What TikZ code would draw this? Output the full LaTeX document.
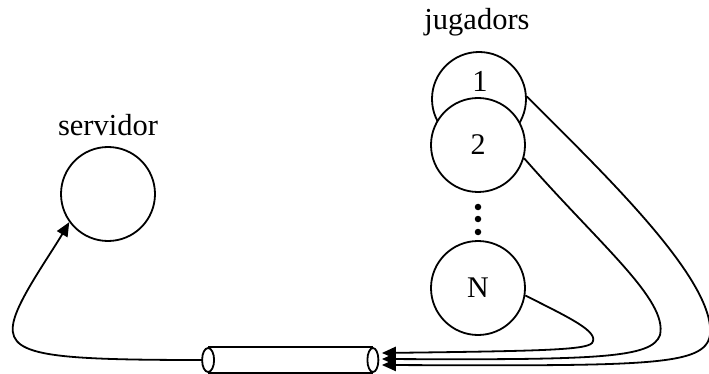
\documentclass[tikz,border=0pt]{standalone}
\usepackage{fontspec}
\setmainfont{Liberation Serif}
\usetikzlibrary{arrows.meta,calc}
\begin{document}
\begin{tikzpicture}[x=1pt,y=-1pt,line width=1.8pt,
  circ/.style={circle,draw,fill=white,minimum size=94pt,inner sep=0pt,font=\fontsize{30}{30}\selectfont},
  lbl/.style={font=\fontsize{30.5}{30.5}\selectfont,inner sep=0pt},
  dotn/.style={circle,fill=black,minimum size=6.5pt,inner sep=0pt},
  conn/.style={-{Triangle[length=14pt,width=12pt]}}]
\useasboundingbox (0,0) rectangle (709,374);
% server
\node[circ] (serv) at (108,194) {};
\node[lbl] (servl) at (108,125) {servidor};
% players
\node[lbl] (jugl) at (477,22) {jugadors};
\node[circ] (j1) at (479,99) {};
\node[lbl] (j1t) at (480,81) {1};
\node[circ] (j2) at (478,145) {2};
\node[dotn] (d1) at (478,207) {};
\node[dotn] (d2) at (478,219) {};
\node[dotn] (d3) at (478,232) {};
\node[circ] (jN) at (478,288) {N};
% pipe
\node[minimum width=163pt,minimum height=24pt,inner sep=0pt] (pipe) at (290.5,360) {};
\draw (pipe.north west) -- (pipe.north east);
\draw (pipe.south west) -- (pipe.south east);
\draw[fill=white] (pipe.west) ellipse (6 and 12);
\draw[fill=white] (pipe.east) ellipse (5.5 and 12);
\coordinate (pin) at ($(pipe.west)+(-6,0)$);
\coordinate (t1) at ($(pipe.east)+(9,5)$);
\coordinate (t2) at ($(pipe.east)+(9,-1)$);
\coordinate (t3) at ($(pipe.east)+(9,-7)$);
% connectors
\draw[conn] (pin) .. controls (40,360) and (5,355) .. (14,320)
  .. controls (20,297) and (50,255) .. (serv.216);
\draw[conn] (j1.3) .. controls (600,170) and (716,280) .. (710,335)
  .. controls (705,366) and (650,366) .. (t1);
\draw[conn] (j2.-16) .. controls (600,245) and (668,300) .. (660,335)
  .. controls (652,358) and (600,360) .. (t2);
\draw[conn] (jN.-9) .. controls (570,318) and (600,332) .. (592,343)
  .. controls (586,350) and (540,351) .. (t3);
\end{tikzpicture}
\end{document}
